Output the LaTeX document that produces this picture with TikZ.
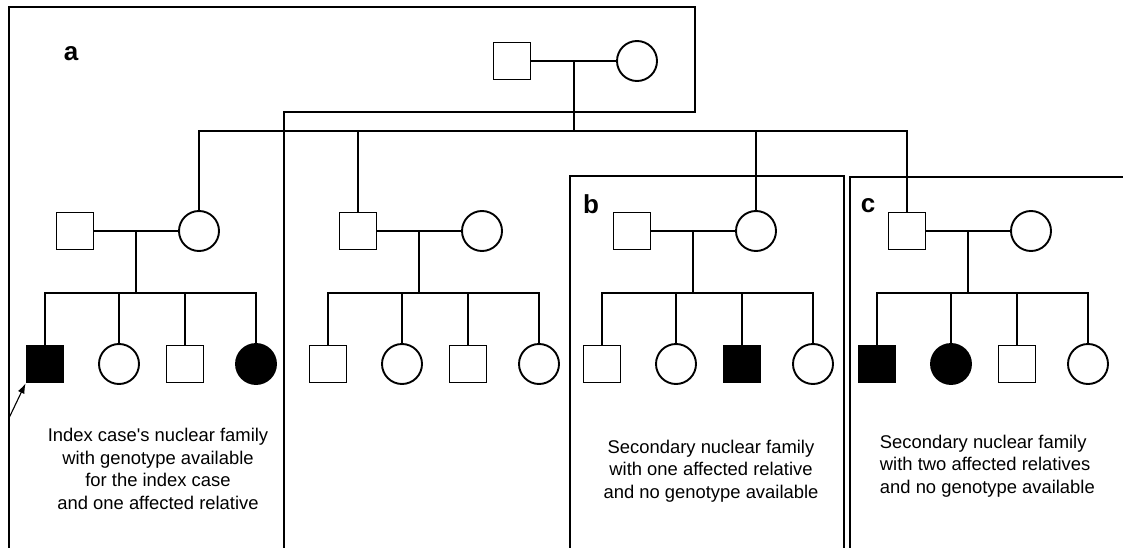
\documentclass[tikz,border=0pt]{standalone}
\usepackage{fontspec}
\setmainfont{Liberation Sans}
\usetikzlibrary{arrows.meta}

\begin{document}
\begin{tikzpicture}[
	x=1pt, y=-1pt,
	line width=1.9pt,
	male/.style={
		draw,
		rectangle,
		minimum size=37pt,
		inner sep=0pt
	},
	female/.style={
		draw,
		circle,
		minimum size=40pt,
		inner sep=0pt
	},
	maleaff/.style={male, fill=black},
	femaleaff/.style={female, fill=black},
	tag/.style={font=\fontsize{26}{26}\selectfont\bfseries, anchor=base, inner sep=0pt},
	note/.style={font=\fontsize{18.4}{22.6}\selectfont, inner sep=0pt},
	>={Latex[length=10pt,width=7pt]}
	]
	\useasboundingbox (0,0) rectangle (1123,548);
	% frames a, b, c
	\draw (9,548) -- (9,7) -- (695,7) -- (695,112) -- (284,112) -- (284,548);
	\draw (570,548) -- (570,176) -- (844,176) -- (844,548);
	\draw (850,548) -- (850,177) -- (1123,177);
	\node[tag] (la) at (71,61) {a};
	\node[tag] (lb) at (591,213) {b};
	\node[tag] (lc) at (868,212) {c};
	% levels of the sibship lines
	\coordinate (lev2) at (0,131);
	\coordinate (lev3) at (0,293);
	% grandparents
	\node[male] (gf) at (512,61) {};
	\node[female] (gm) at (637,61) {};
	\draw (gf) -- (gm);
	\path (gf.east) -- coordinate[midway] (gp) (gm.west);
	% nuclear families
	\foreach \f/\x/\kids in {f1/75/{maleaff,female,male,femaleaff},
		f2/358/{male,female,male,female},
		fb/632/{male,female,maleaff,female},
		fc/907/{maleaff,femaleaff,male,female}}
	{
		\node[male] (\f-h) at (\x,231) {};
		\node[female] (\f-w) at (\x+124,231) {};
		\draw (\f-h) -- (\f-w);
		\path (\f-h.east) -- coordinate[midway] (\f-m) (\f-w.west);
		\foreach \st [count=\i] in \kids
		{
			\pgfmathsetmacro\kx{\x-30+{0,74,140,211}[\i-1]}
			\node[\st] (\f-k\i) at (\kx,364) {};
		}
		\draw (\f-m) -- (\f-m |- lev3);
		\draw (\f-k1.north) |- (\f-k4.north |- lev3) -- (\f-k4.north);
		\foreach \i in {2,3}
		\draw (\f-k\i.north) -- (\f-k\i.north |- lev3);
	}
	\draw (gp) -- (gp |- lev2);
	\draw (f1-w.north) |- (fc-h.north |- lev2) -- (fc-h.north);
	\draw (f2-h.north) -- (f2-h.north |- lev2);
	\draw (fb-w.north) -- (fb-w.north |- lev2);
	% index case
	\coordinate (ar) at (9,418);
	\draw[->, line width=1.1pt] (ar) -- (f1-k1.south west);
	% notes
	\node[note, align=center] (ta) at (158,469) {Index case\textquotesingle s nuclear family\\with genotype available\\for the index case\\and one affected relative};
	\node[note, align=center] (tb) at (711,471) {Secondary nuclear family\\with one affected relative\\and no genotype available};
	\node[note, align=left, anchor=west] (tc) at (879,466) {Secondary nuclear family\\with two affected relatives\\and no genotype available};
\end{tikzpicture}
\end{document}
